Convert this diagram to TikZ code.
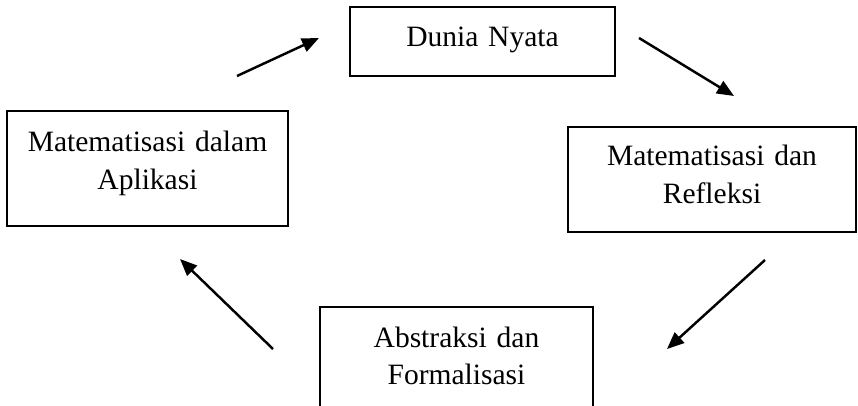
\documentclass[tikz,border=0pt]{standalone}
\usepackage{fontspec}
\setmainfont{Liberation Serif}
\usetikzlibrary{calc}
\usetikzlibrary{arrows.meta}

\tikzset{
  box/.style = {rectangle, draw = black, line width = 0.9pt, inner sep = 0pt, text width = 5cm, text centered, font = \fontsize{16.8}{21.6}\selectfont, text height = 0.4cm},
  flow/.style = {-{Triangle[length = 0.34cm, width = 0.28cm]}, line width = 1.4pt}
}

\begin{document}
\begin{tikzpicture}
\useasboundingbox (-9.65,0.83) rectangle (7.51,-7.29);
\draw (0,0) node[box, name = s0, minimum width = 5.3cm, minimum height = 1.38cm, text depth = 0.18cm]{Dunia Nyata};
\draw (s0) + (4.59,-2.76) node[box, name = s1, minimum width = 5.76cm, minimum height = 2.1cm, text depth = 0.94cm]{Matematisasi dan\\ Refleksi};
\draw (s0) + (-0.52,-6.36) node[box, name = s2, minimum width = 5.46cm, minimum height = 2.1cm, text depth = 0.9cm]{Abstraksi dan\\ Formalisasi};
\draw (s0) + (-6.7,-2.54) node[box, name = s3, minimum width = 5.62cm, minimum height = 2.3cm, text depth = 1.06cm]{Matematisasi dalam\\ Aplikasi};
% free ends of the arrows
\coordinate (p0) at ($(s0) + (3.13,0.07)$);
\coordinate (q0) at ($(s0) + (5.03,-1.09)$);
\coordinate (p1) at ($(s0) + (5.65,-4.37)$);
\coordinate (q1) at ($(s0) + (3.69,-6.15)$);
\coordinate (p2) at ($(s0) + (-4.19,-6.15)$);
\coordinate (q2) at ($(s0) + (-6.05,-4.35)$);
\coordinate (p3) at ($(s0) + (-4.91,-0.69)$);
\coordinate (q3) at ($(s0) + (-3.27,0.07)$);
\draw[flow] (p0) -- (q0);
\draw[flow] (p1) -- (q1);
\draw[flow] (p2) -- (q2);
\draw[flow] (p3) -- (q3);
\end{tikzpicture}
\end{document}
